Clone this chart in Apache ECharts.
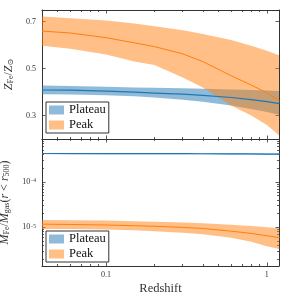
<!DOCTYPE html>
<html><head><meta charset="utf-8">
<script src="https://cdn.jsdelivr.net/npm/echarts@6/dist/echarts.min.js"></script>
<style>html,body{margin:0;padding:0;background:#fff}#c{width:293px;height:304px}</style>
</head><body><div id="c"></div>
<script>
// ---------- data ----------
const redshift = [0.04, 0.06, 0.1, 0.15, 0.2, 0.3, 0.4, 0.6, 0.8, 1.0, 1.2];

// top panel: Z_Fe / Z_sun
const plateauZFe   = [0.409, 0.408, 0.404, 0.400, 0.396, 0.391, 0.386, 0.377, 0.368, 0.359, 0.351];
const plateauZFeLo = [0.391, 0.390, 0.387, 0.382, 0.377, 0.367, 0.359, 0.343, 0.328, 0.315, 0.303];
const plateauZFeHi = [0.428, 0.426, 0.423, 0.420, 0.418, 0.416, 0.414, 0.411, 0.409, 0.407, 0.405];
const peakZFe      = [0.660, 0.652, 0.632, 0.610, 0.594, 0.563, 0.530, 0.470, 0.430, 0.397, 0.362];
const peakZFeLo    = [0.598, 0.585, 0.560, 0.530, 0.515, 0.462, 0.420, 0.343, 0.300, 0.260, 0.214];
const peakZFeHi    = [0.722, 0.715, 0.705, 0.692, 0.681, 0.664, 0.648, 0.622, 0.598, 0.576, 0.556];

// bottom panel: M_Fe / M_gas (r < r500)
const plateauMFe   = [4.22e-4, 4.21e-4, 4.20e-4, 4.19e-4, 4.18e-4, 4.17e-4, 4.16e-4, 4.14e-4, 4.12e-4, 4.10e-4, 4.09e-4];
const plateauMFeLo = [4.10e-4, 4.09e-4, 4.08e-4, 4.07e-4, 4.06e-4, 4.05e-4, 4.04e-4, 4.02e-4, 4.00e-4, 3.98e-4, 3.96e-4];
const plateauMFeHi = [4.34e-4, 4.33e-4, 4.32e-4, 4.31e-4, 4.30e-4, 4.29e-4, 4.28e-4, 4.26e-4, 4.24e-4, 4.22e-4, 4.21e-4];
const peakMFe      = [1.17e-5, 1.15e-5, 1.12e-5, 1.08e-5, 1.05e-5, 9.9e-6, 9.4e-6, 8.2e-6, 7.3e-6, 6.5e-6, 5.9e-6];
const peakMFeLo    = [9.2e-6, 9.1e-6, 8.9e-6, 8.6e-6, 8.2e-6, 7.6e-6, 7.0e-6, 5.9e-6, 4.8e-6, 3.8e-6, 3.3e-6];
const peakMFeHi    = [1.45e-5, 1.43e-5, 1.40e-5, 1.36e-5, 1.33e-5, 1.27e-5, 1.22e-5, 1.13e-5, 1.06e-5, 1.0e-5, 9.5e-6];

// ticks
const xMajorTicks = [0.1, 1];
const xMinorTicks = [0.05, 0.06, 0.07, 0.08, 0.09, 0.2, 0.3, 0.4, 0.5, 0.6, 0.7, 0.8, 0.9];
const zMajorTicks = [0.3, 0.5, 0.7];
const mMajorTicks = [1e-5, 1e-4];
const mMinorTicks = [2e-6, 3e-6, 4e-6, 5e-6, 6e-6, 7e-6, 8e-6, 9e-6,
                     2e-5, 3e-5, 4e-5, 5e-5, 6e-5, 7e-5, 8e-5, 9e-5,
                     2e-4, 3e-4, 4e-4, 5e-4, 6e-4, 7e-4, 8e-4];
const seriesNames = ['Plateau', 'Peak'];

// ---------- style ----------
const FONT = '"Liberation Serif", "DejaVu Serif", serif';
const AX = '#333';
const BLUE = '#1f77b4', ORANGE = '#ff7f0e';
const BLUE_A = 'rgba(31,119,180,0.5)', ORANGE_A = 'rgba(255,127,14,0.5)';

function rect(top, height) {
  return {left: 42, right: 14, top: top, height: height, containLabel: false, outerBoundsMode: 'none'};
}

function xAx(gi, pos, ticks, len, main, labels) {
  return {
    type: 'log', logBase: 10, gridIndex: gi, position: pos, min: 0.04, max: 1.19,
    axisLine: {show: main, lineStyle: {color: AX, width: 1}},
    axisTick: {show: ticks.length > 0, inside: true, length: len, customValues: ticks, lineStyle: {color: AX, width: 0.8}},
    axisLabel: labels ? {show: true, customValues: xMajorTicks, fontFamily: FONT, fontSize: 8, color: '#333', margin: 5,
      formatter: v => String(+(+v).toPrecision(3))} : {show: false},
    splitLine: {show: false}, minorTick: {show: false}, axisPointer: {show: false}
  };
}
function yAxLin(gi, pos, ticks, len, main, labels) {
  return {
    type: 'value', gridIndex: gi, position: pos, min: 0.2, max: 0.75,
    axisLine: {show: main, lineStyle: {color: AX, width: 1}},
    axisTick: {show: ticks.length > 0, inside: true, length: len, customValues: ticks, lineStyle: {color: AX, width: 0.8}},
    axisLabel: labels ? {show: true, customValues: zMajorTicks, fontFamily: FONT, fontSize: 8, color: '#333', margin: 6,
      formatter: v => (+v).toFixed(1)} : {show: false},
    splitLine: {show: false}
  };
}
function yAxLog(gi, pos, ticks, len, main, labels) {
  return {
    type: 'log', logBase: 10, gridIndex: gi, position: pos, min: 1.4e-6, max: 8.8e-4,
    axisLine: {show: main, lineStyle: {color: AX, width: 1}},
    axisTick: {show: true, inside: true, length: len, customValues: ticks, lineStyle: {color: AX, width: 0.8}},
    axisLabel: labels ? {show: true, customValues: mMajorTicks, fontFamily: FONT, fontSize: 8, color: '#333', margin: 6,
      formatter: v => '{b|10}{s|\u2212' + (-Math.round(Math.log10(+v))) + '}',
      rich: {b: {fontFamily: FONT, fontSize: 8, lineHeight: 8, verticalAlign: 'bottom', color: '#333'},
             s: {fontFamily: FONT, fontSize: 5.5, lineHeight: 6, verticalAlign: 'top', padding: [0, 0, 4, 0], color: '#333'}}}
      : {show: false},
    splitLine: {show: false}, minorTick: {show: false}
  };
}

const titleRich = {
  i: {fontFamily: FONT, fontStyle: 'italic', fontSize: 12, lineHeight: 12, verticalAlign: 'top', color: '#333'},
  n: {fontFamily: FONT, fontSize: 12, lineHeight: 12, verticalAlign: 'top', color: '#333'},
  s: {fontFamily: FONT, fontSize: 8, lineHeight: 8, verticalAlign: 'bottom', padding: [5, 0, 0, 0], color: '#333'}
};

const xAxes = [
  xAx(0, 'bottom', xMajorTicks, 3.5, true, false),
  xAx(0, 'top', xMajorTicks, 3.5, true, false),
  xAx(1, 'bottom', xMinorTicks, 2, false, false),
  xAx(1, 'top', xMinorTicks, 2, false, false),
  Object.assign(xAx(2, 'bottom', xMajorTicks, 3.5, true, true),
    {name: 'Redshift', nameLocation: 'middle', nameGap: 16,
     nameTextStyle: {fontFamily: FONT, fontSize: 12.5, color: '#333'}}),
  xAx(2, 'top', xMajorTicks, 3.5, true, false),
  xAx(3, 'bottom', xMinorTicks, 2, false, false),
  xAx(3, 'top', xMinorTicks, 2, false, false)
];
const yAxes = [
  Object.assign(yAxLin(0, 'left', zMajorTicks, 3.5, true, true),
    {name: '{i|Z}{s|Fe}{n|/}{i|Z}{s|\u2299}', nameLocation: 'middle', nameGap: 22, nameRotate: 90,
     nameTextStyle: {rich: titleRich}}),
  yAxLin(0, 'right', zMajorTicks, 3.5, true, false),
  yAxLin(1, 'left', [], 2, false, false),
  Object.assign(yAxLog(2, 'left', mMajorTicks, 3.5, true, true),
    {name: '{i|M}{s|Fe}{n|/}{i|M}{s|gas}{n|(}{i|r}{n| < }{i|r}{s|500}{n|)}', nameLocation: 'middle', nameGap: 22, nameRotate: 90,
     nameTextStyle: {rich: titleRich}}),
  yAxLog(2, 'right', mMajorTicks, 3.5, true, false),
  yAxLog(3, 'left', mMinorTicks, 2, false, false),
  yAxLog(3, 'right', mMinorTicks, 2, false, false)
];

// filled uncertainty band drawn as one polygon through the axes' own coordinate mapping
function band(name, xi, yi, lo, hi, fill) {
  return {
    type: 'custom', name: name, xAxisIndex: xi, yAxisIndex: yi, silent: true, animation: false,
    itemStyle: {color: fill},
    encode: {x: 0, y: [1, 2]},
    data: redshift.map((z, i) => [z, lo[i], hi[i]]),
    renderItem: function (params, api) {
      if (params.dataIndex !== 0) return null;
      const pts = [];
      for (let i = 0; i < redshift.length; i++) pts.push(api.coord([redshift[i], hi[i]]));
      for (let i = redshift.length - 1; i >= 0; i--) pts.push(api.coord([redshift[i], lo[i]]));
      const cs = params.coordSys;
      return {
        type: 'polygon', shape: {points: pts}, style: {fill: fill, stroke: null},
        clipPath: {type: 'rect', shape: {x: cs.x, y: cs.y, width: cs.width, height: cs.height}}
      };
    }
  };
}
function line(name, xi, yi, vals, color, w) {
  return {type: 'line', name: name + ' median', xAxisIndex: xi, yAxisIndex: yi, symbol: 'none',
    lineStyle: {color: color, width: w}, itemStyle: {color: color}, silent: true, animation: false,
    data: redshift.map((z, i) => [z, vals[i]])};
}

const series = [
  band(seriesNames[0], 0, 0, plateauZFeLo, plateauZFeHi, BLUE_A),
  line(seriesNames[0], 0, 0, plateauZFe, BLUE, 1.2),
  band(seriesNames[1], 0, 0, peakZFeLo, peakZFeHi, ORANGE_A),
  line(seriesNames[1], 0, 0, peakZFe, ORANGE, 1),
  band(seriesNames[0], 4, 3, plateauMFeLo, plateauMFeHi, BLUE_A),
  line(seriesNames[0], 4, 3, plateauMFe, BLUE, 1.2),
  band(seriesNames[1], 4, 3, peakMFeLo, peakMFeHi, ORANGE_A),
  line(seriesNames[1], 4, 3, peakMFe, ORANGE, 1)
];

function legendAt(top) {
  return {
    left: 46, top: top, orient: 'vertical', itemWidth: 15, itemHeight: 9, itemGap: 1, itemTextGap: 3,
    padding: [1, 3, 1, 3], borderColor: '#333', borderWidth: 1, borderRadius: 0, backgroundColor: '#fff',
    selectedMode: false, z: 10,
    textStyle: {fontFamily: FONT, fontSize: 12.5, color: '#111', lineHeight: 14},
    data: [
      {name: seriesNames[0], icon: 'rect', itemStyle: {color: BLUE_A, borderWidth: 0}},
      {name: seriesNames[1], icon: 'rect', itemStyle: {color: ORANGE_A, borderWidth: 0}}
    ]
  };
}

const chart = echarts.init(document.getElementById('c'), null, {renderer: 'canvas'});
chart.setOption({
  animation: false,
  backgroundColor: '#fff',
  grid: [rect(10, 129), rect(10, 129), rect(139, 127), rect(139, 127)],
  xAxis: xAxes,
  yAxis: yAxes,
  legend: [legendAt(102), legendAt(231)],
  series: series
});
</script>
</body></html>
